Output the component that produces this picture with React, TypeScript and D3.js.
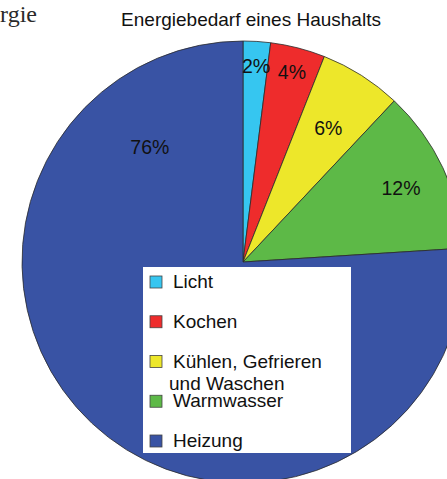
import React, { useEffect, useRef } from 'react';
import * as d3 from 'd3';

// Data
const categories = ['Licht', 'Kochen', 'Kühlen, Gefrieren|und Waschen', 'Warmwasser', 'Heizung'];
const shares = [2, 4, 6, 12, 76];
const colors = ['#36c6f0', '#ee2c2c', '#ede72a', '#5db947', '#3953a4'];
// label placement: radius fraction of the pie, optional angle override (deg)
const labelRadius = [0.89, 0.89, 0.72, 0.79, 0.67];
const labelAngle: (number | null)[] = [3.8, null, null, null, 321];

const W = 447;
const H = 479;

const App = () => {
  const svgRef = useRef<SVGSVGElement | null>(null);

  useEffect(() => {
    if (!svgRef.current) return;
    const svg = d3.select(svgRef.current);
    svg.selectAll('*').remove();

    const cx = 243;
    const cy = 262;
    const r = 221;
    const font = 'Liberation Sans, Arial, sans-serif';

    svg.append('rect').attr('width', W).attr('height', H).attr('fill', '#ffffff');

    // cut-off heading from the page
    svg.append('text')
      .attr('x', 37)
      .attr('y', 22)
      .attr('text-anchor', 'end')
      .style('font-family', 'Liberation Serif, Times New Roman, serif')
      .style('font-size', '24px')
      .style('fill', '#2a2a2a')
      .text('Energie');

    svg.append('text')
      .attr('x', 251)
      .attr('y', 26)
      .attr('text-anchor', 'middle')
      .style('font-family', font)
      .style('font-size', '19px')
      .style('fill', '#111')
      .text('Energiebedarf eines Haushalts');

    const pie = d3.pie<number>().sort(null).value(d => d);
    const arcs = pie(shares);
    const arc = d3.arc<d3.PieArcDatum<number>>().innerRadius(0).outerRadius(r);

    const g = svg.append('g').attr('transform', `translate(${cx},${cy})`);

    g.selectAll('path.slice')
      .data(arcs)
      .enter().append('path')
      .attr('class', 'slice')
      .attr('d', arc)
      .attr('fill', (d, i) => colors[i])
      .attr('stroke', '#2b2b2b')
      .attr('stroke-width', 0.8);

    // percentage labels
    g.selectAll('text.pct')
      .data(arcs)
      .enter().append('text')
      .attr('class', 'pct')
      .attr('transform', (d, i) => {
        const a = labelAngle[i] != null
          ? (labelAngle[i] as number) * Math.PI / 180
          : (d.startAngle + d.endAngle) / 2;
        const rr = r * labelRadius[i];
        return `translate(${rr * Math.sin(a)},${-rr * Math.cos(a)})`;
      })
      .attr('text-anchor', 'middle')
      .attr('dy', '0.36em')
      .style('font-family', font)
      .style('font-size', '19.5px')
      .style('fill', '#111')
      .text(d => `${d.data}%`);

    // legend
    const lg = svg.append('g').attr('transform', 'translate(143,267)');
    lg.append('rect')
      .attr('width', 208)
      .attr('height', 186)
      .attr('fill', '#ffffff');

    const yStep = d3.scaleLinear().domain([0, categories.length - 1]).range([21, 180]);

    const item = lg.selectAll('g.item')
      .data(categories)
      .enter().append('g')
      .attr('class', 'item')
      .attr('transform', (d, i) => `translate(0,${yStep(i)})`);

    item.append('rect')
      .attr('x', 7)
      .attr('y', -12)
      .attr('width', 12)
      .attr('height', 12)
      .attr('fill', (d, i) => colors[i])
      .attr('stroke', '#444')
      .attr('stroke-width', 0.8);

    item.each(function (d) {
      const lines = d.split('|');
      const t = d3.select(this).append('text')
        .style('font-family', font)
        .style('font-size', '19px')
        .style('fill', '#111');
      lines.forEach((line, k) => {
        t.append('tspan')
          .attr('x', k === 0 ? 30 : 26)
          .attr('y', k * 22)
          .text(line);
      });
    });
  }, []);

  return (
    <svg
      ref={svgRef}
      width={W}
      height={H}
      style={{ position: 'absolute', left: 0, top: 0 }}
    />
  );
};

export default App;
